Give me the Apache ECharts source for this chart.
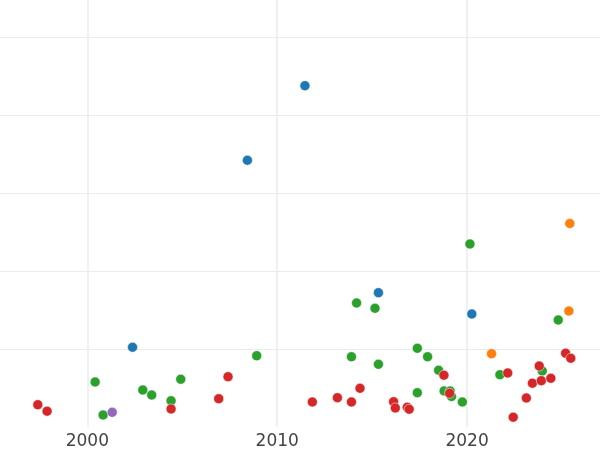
<!DOCTYPE html>
<html>
<head>
<meta charset="utf-8">
<script src="https://cdn.jsdelivr.net/npm/echarts@6/dist/echarts.min.js"></script>
<style>html,body{margin:0;padding:0;background:#fff}#c{width:600px;height:450px}</style>
</head>
<body>
<div id="c"></div>
<script>
const xTicks = [2000, 2010, 2020];
const blueX = [2011.46, 2008.43, 2002.38, 2015.33, 2020.25];
const blueY = [4.376, 3.419, 1.022, 1.722, 1.449];
const orangeX = [2025.41, 2025.36, 2021.29];
const orangeY = [2.609, 1.487, 0.940];
const greenX = [2000.41, 2000.83, 2002.92, 2003.39, 2004.41, 2004.92, 2008.92, 2014.18, 2015.15, 2020.15, 2024.80, 2013.91, 2015.33, 2017.38, 2017.92, 2018.50, 2017.38, 2018.79, 2019.11, 2019.18, 2019.75, 2021.73, 2023.96];
const greenY = [0.577, 0.154, 0.474, 0.410, 0.337, 0.612, 0.914, 1.590, 1.522, 2.346, 1.372, 0.901, 0.804, 1.009, 0.901, 0.727, 0.440, 0.462, 0.462, 0.391, 0.321, 0.671, 0.718];
const redX = [1997.39, 1997.88, 2004.41, 2006.92, 2007.41, 2011.85, 2013.17, 2013.91, 2014.36, 2016.13, 2016.22, 2016.85, 2016.95, 2018.78, 2019.08, 2022.14, 2022.43, 2023.12, 2023.44, 2023.80, 2023.91, 2024.41, 2025.19, 2025.46];
const redY = [0.286, 0.203, 0.231, 0.363, 0.645, 0.321, 0.376, 0.321, 0.496, 0.324, 0.244, 0.253, 0.228, 0.664, 0.432, 0.692, 0.126, 0.372, 0.562, 0.782, 0.594, 0.624, 0.946, 0.882];
const purpleX = [2001.31];
const purpleY = [0.188];

const zip = (xs, ys) => xs.map((x, i) => [x, ys[i]]);
const mk = (name, color, xs, ys) => ({
  name, type: 'scatter', symbolSize: 10, z: 3,
  itemStyle: { color, opacity: 1, borderColor: '#fff', borderWidth: 0.5 },
  data: zip(xs, ys)
});

const chart = echarts.init(document.getElementById('c'), null, { renderer: 'canvas' });
chart.setOption({
  animation: false,
  backgroundColor: '#fff',
  grid: { left: 0, right: 0, top: 0, bottom: 23, containLabel: false },
  xAxis: {
    type: 'value', min: 1995.4, max: 2027.0,
    axisLine: { show: false },
    axisTick: { show: false, customValues: xTicks },
    axisLabel: { color: '#444', fontSize: 17, fontFamily: 'DejaVu Sans', margin: 6,
      customValues: xTicks, formatter: v => String(v) },
    splitLine: { show: false }
  },
  yAxis: {
    type: 'value', min: 0, max: 427 / 78, interval: 1,
    axisLine: { show: false }, axisTick: { show: false }, axisLabel: { show: false },
    splitLine: { show: true, showMinLine: false, showMaxLine: false, lineStyle: { color: '#ebebeb', width: 1 } }
  },
  series: [
    {
      name: 'grid', type: 'scatter', z: 1, silent: true, data: [],
      markLine: {
        z: 1, silent: true, symbol: ['none', 'none'], label: { show: false },
        lineStyle: { color: '#ebebeb', width: 1.5, type: 'solid' },
        emphasis: { disabled: true },
        data: xTicks.map(v => ({ xAxis: v }))
      }
    },
    mk('blue', '#1f77b4', blueX, blueY),
    mk('orange', '#ff7f0e', orangeX, orangeY),
    mk('green', '#2ca02c', greenX, greenY),
    mk('red', '#d62728', redX, redY),
    mk('purple', '#9467bd', purpleX, purpleY)
  ]
});
</script>
</body>
</html>
